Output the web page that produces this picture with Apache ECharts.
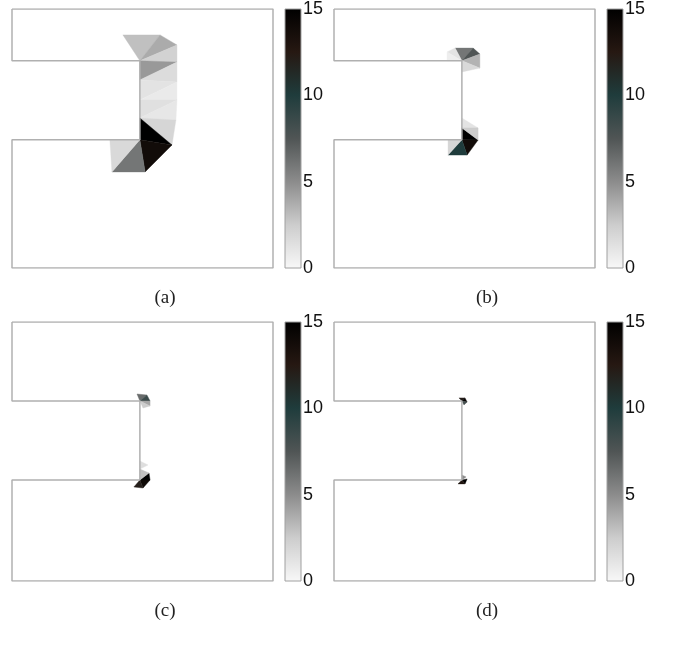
<!DOCTYPE html>
<html>
<head>
<meta charset="utf-8">
<script src="https://cdn.jsdelivr.net/npm/echarts@6/dist/echarts.min.js"></script>
<style>html,body{margin:0;padding:0;background:#fff}#c{width:673px;height:657px}</style>
</head>
<body>
<div id="c"></div>
<script>
// Colour scale
const cbTicks = [0, 5, 10, 15];
const cbColors = ['#f8f8f8', '#cdcdcd', '#8c8c8c', '#505555', '#1f3c3c', '#261812', '#000000'];
const panelLabels = ['(a)', '(b)', '(c)', '(d)'];

// Domain notch (x extent, y bottom, y top) per panel
const notchAB = [0.49, 0.495, 0.80];
const notchCD = [0.49, 0.39, 0.695];

// Triangles: [x1,y1,x2,y2,x3,y3,value]
const triA = [
  [0.425,0.900, 0.567,0.900, 0.490,0.800, 3.0],
  [0.567,0.900, 0.632,0.861, 0.490,0.800, 3.8],
  [0.490,0.800, 0.632,0.861, 0.632,0.795, 2.2],
  [0.490,0.800, 0.632,0.795, 0.490,0.726, 4.5],
  [0.490,0.726, 0.632,0.795, 0.632,0.718, 1.6],
  [0.490,0.726, 0.632,0.718, 0.490,0.649, 1.2],
  [0.490,0.649, 0.632,0.718, 0.632,0.649, 0.8],
  [0.490,0.649, 0.632,0.649, 0.490,0.579, 1.4],
  [0.490,0.579, 0.632,0.649, 0.628,0.571, 1.0],
  [0.490,0.579, 0.628,0.571, 0.613,0.475, 2.0],
  [0.490,0.579, 0.613,0.475, 0.490,0.495, 15],
  [0.490,0.495, 0.613,0.475, 0.510,0.371, 13.8],
  [0.490,0.495, 0.510,0.371, 0.383,0.371, 6.0],
  [0.375,0.495, 0.490,0.495, 0.383,0.371, 1.8]
];
const triB = [
  [0.464,0.849, 0.533,0.849, 0.490,0.800, 6.0],
  [0.533,0.849, 0.559,0.826, 0.490,0.800, 7.5],
  [0.490,0.800, 0.559,0.826, 0.559,0.772, 3.5],
  [0.490,0.800, 0.559,0.772, 0.490,0.757, 1.8],
  [0.433,0.834, 0.464,0.849, 0.490,0.800, 1.2],
  [0.433,0.800, 0.433,0.834, 0.490,0.800, 0.6],
  [0.490,0.541, 0.552,0.494, 0.490,0.495, 15],
  [0.490,0.495, 0.552,0.494, 0.510,0.436, 13.8],
  [0.437,0.436, 0.490,0.495, 0.510,0.436, 10],
  [0.437,0.495, 0.490,0.495, 0.437,0.436, 2.0],
  [0.490,0.579, 0.552,0.541, 0.490,0.541, 1.2],
  [0.490,0.541, 0.552,0.541, 0.552,0.494, 2.5]
];
const triC = [
  [0.479,0.722, 0.517,0.718, 0.490,0.695, 6.5],
  [0.517,0.718, 0.529,0.695, 0.490,0.695, 8.5],
  [0.490,0.695, 0.529,0.695, 0.529,0.676, 4.0],
  [0.490,0.695, 0.529,0.676, 0.502,0.668, 2.5],
  [0.490,0.390, 0.525,0.417, 0.529,0.390, 15],
  [0.490,0.390, 0.529,0.390, 0.502,0.359, 14],
  [0.467,0.363, 0.490,0.390, 0.502,0.359, 12],
  [0.490,0.432, 0.525,0.417, 0.490,0.390, 3.0],
  [0.490,0.463, 0.521,0.448, 0.490,0.432, 1.5]
];
const triD = [
  [0.479,0.707, 0.502,0.707, 0.490,0.695, 12],
  [0.502,0.707, 0.510,0.691, 0.490,0.695, 14.5],
  [0.490,0.695, 0.510,0.691, 0.498,0.680, 8],
  [0.490,0.390, 0.510,0.394, 0.502,0.375, 15],
  [0.475,0.375, 0.490,0.390, 0.502,0.375, 13],
  [0.490,0.409, 0.506,0.402, 0.490,0.390, 5]
];

const chart = echarts.init(document.getElementById('c'), null, {renderer: 'canvas'});

const panels = [
  {tri: triA, notch: notchAB, left: 12, top: 9},
  {tri: triB, notch: notchAB, left: 334, top: 9},
  {tri: triC, notch: notchCD, left: 12, top: 322},
  {tri: triD, notch: notchCD, left: 334, top: 322}
];
const W = 261, H = 259;

function outline(n) {
  const [xn, yb, yt] = n;
  return [[0,1],[1,1],[1,0],[0,0],[0,yb],[xn,yb],[xn,yt],[0,yt],[0,1]];
}

const grids = [], xAxes = [], yAxes = [], series = [], graphics = [];
const triSeriesIdx = [];
const stops = cbColors.map((c, i) => ({offset: i / (cbColors.length - 1), color: c}));

panels.forEach((p, i) => {
  const gi = grids.length;
  grids.push({left: p.left, top: p.top, width: W, height: H});
  xAxes.push({gridIndex: gi, type: 'value', min: 0, max: 1, show: false});
  yAxes.push({gridIndex: gi, type: 'value', min: 0, max: 1, show: false});
  triSeriesIdx.push(series.length);
  series.push({
    type: 'custom', xAxisIndex: gi, yAxisIndex: gi,
    data: p.tri,
    encode: {x: [0, 2, 4], y: [1, 3, 5]},
    renderItem: function (params, api) {
      const pts = [0, 1, 2].map(k => api.coord([api.value(2 * k), api.value(2 * k + 1)]));
      const c = api.visual('color');
      return {type: 'polygon', shape: {points: pts}, style: {fill: c, stroke: c, lineWidth: 0.4}};
    },
    silent: true, z: 2
  });
  series.push({
    type: 'line', xAxisIndex: gi, yAxisIndex: gi,
    data: outline(p.notch), symbol: 'none',
    lineStyle: {color: '#b0b0b0', width: 1.5}, silent: true, z: 3
  });
  // colorbar
  const ci = grids.length;
  grids.push({left: p.left + 273, top: p.top, width: 16, height: H});
  xAxes.push({gridIndex: ci, type: 'value', min: 0, max: 1, show: false});
  yAxes.push({
    gridIndex: ci, type: 'value', min: 0, max: 15, interval: 5, position: 'right',
    axisLine: {show: false}, axisTick: {show: false}, splitLine: {show: false},
    axisLabel: {fontSize: 18, color: '#111', margin: 2, fontFamily: 'Liberation Sans', padding: [8, 0, 0, 0],
      formatter: v => cbTicks.indexOf(v) >= 0 ? String(v) : ''}
  });
  series.push({
    type: 'custom', xAxisIndex: ci, yAxisIndex: ci,
    data: [[0, 0, 1, 15]],
    renderItem: function (params, api) {
      const a = api.coord([api.value(0), api.value(3)]);
      const b = api.coord([api.value(2), api.value(1)]);
      return {type: 'rect', shape: {x: a[0], y: a[1], width: b[0] - a[0], height: b[1] - a[1]},
        style: {fill: new echarts.graphic.LinearGradient(0, 1, 0, 0, stops), stroke: '#a0a0a0', lineWidth: 1}};
    },
    silent: true
  });
  graphics.push({type: 'text', x: p.left + 153, y: p.top + 289,
    style: {text: panelLabels[i], font: '19px "Liberation Serif"', fill: '#222', align: 'center', verticalAlign: 'middle'}});
});

chart.setOption({
  animation: false,
  backgroundColor: '#fff',
  grid: grids, xAxis: xAxes, yAxis: yAxes,
  visualMap: {type: 'continuous', show: false, min: 0, max: 15, dimension: 6,
    seriesIndex: triSeriesIdx, inRange: {color: cbColors}},
  series: series,
  graphic: graphics
});
</script>
</body>
</html>
